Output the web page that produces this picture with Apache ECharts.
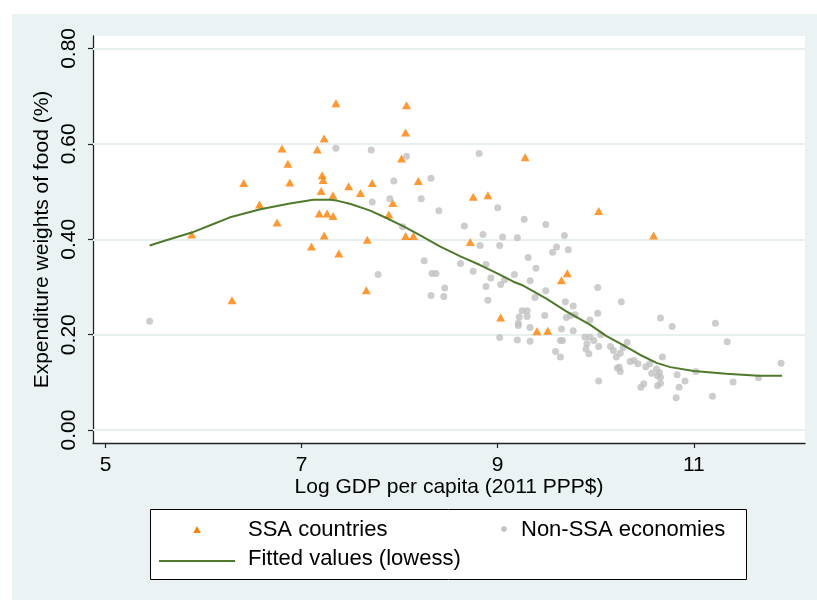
<!DOCTYPE html>
<html>
<head>
<meta charset="utf-8">
<script src="https://cdn.jsdelivr.net/npm/echarts@6/dist/echarts.min.js"></script>
<style>
  html, body { margin: 0; padding: 0; background: #fff; }
  #chart { width: 817px; height: 600px; }
</style>
</head>
<body>
<div id="chart"></div>
<script>
// Axis ticks
const xTicks = [5, 7, 9, 11];
const yTicks = [0, 0.2, 0.4, 0.6, 0.8];

// Sub-Saharan African countries: log GDP per capita vs food expenditure weight
const ssaX = [5.88, 6.29, 6.41, 6.57, 6.75, 6.80, 6.86, 6.88, 7.10, 7.16, 7.18, 7.20, 7.21, 7.22, 7.23,
              7.23, 7.26, 7.32, 7.32, 7.35, 7.38, 7.48, 7.60, 7.66, 7.67, 7.72, 7.89, 7.93, 8.02, 8.06,
              8.06, 8.07, 8.14, 8.19, 8.72, 8.75, 8.90, 9.03, 9.28, 9.40, 9.51, 9.65, 9.71, 10.03, 10.59];
const ssaY = [0.410, 0.272, 0.518, 0.473, 0.435, 0.590, 0.558, 0.519, 0.385, 0.588, 0.454, 0.501, 0.534, 0.524, 0.408,
              0.611, 0.454, 0.449, 0.492, 0.685, 0.370, 0.511, 0.497, 0.293, 0.399, 0.518, 0.452, 0.476, 0.569, 0.407,
              0.624, 0.681, 0.407, 0.522, 0.394, 0.489, 0.492, 0.236, 0.572, 0.207, 0.208, 0.314, 0.329, 0.459, 0.408];

// Other economies
const nonSsaX = [5.45, 7.35, 7.71, 8.07, 8.81, 7.94, 8.32, 7.72, 7.90, 8.22, 8.40, 8.03, 8.66, 8.85, 9.00,
                 8.82, 9.02, 9.05, 9.20, 9.27, 9.49, 9.68, 9.60, 9.56, 9.72, 9.31, 9.39, 8.25, 8.33, 8.37,
                 7.78, 8.62, 8.75, 8.88, 8.93, 8.88, 9.03, 9.07, 9.17, 8.46, 8.32, 8.45, 8.90, 9.33, 9.49,
                 9.38, 10.02, 9.69, 9.77, 10.26, 9.25, 9.30, 9.22, 9.30, 9.21, 9.21, 9.70, 9.48, 9.33, 9.65,
                 9.02, 9.20, 9.33, 9.64, 9.66, 9.59, 9.64, 9.79, 9.74, 10.02, 9.77, 9.94, 10.05, 10.66, 10.78,
                 11.22, 11.34, 11.89, 9.89, 9.94, 9.98, 9.91, 10.03, 9.93, 9.90, 10.15, 10.18, 10.21, 10.25, 10.32,
                 10.28, 10.35, 10.39, 10.43, 10.22, 10.25, 10.24, 10.03, 10.46, 10.49, 10.51, 10.55, 10.57, 10.62, 10.65,
                 10.66, 10.63, 10.66, 10.63, 10.68, 10.83, 10.85, 10.91, 10.82, 11.02, 11.19, 11.40, 11.66];
const nonSsaY = [0.228, 0.591, 0.587, 0.574, 0.580, 0.522, 0.528, 0.478, 0.485, 0.485, 0.460, 0.426, 0.428, 0.410, 0.466,
                 0.387, 0.387, 0.405, 0.403, 0.442, 0.431, 0.408, 0.384, 0.373, 0.378, 0.362, 0.339, 0.355, 0.328, 0.328,
                 0.326, 0.349, 0.333, 0.347, 0.319, 0.301, 0.305, 0.315, 0.326, 0.298, 0.282, 0.280, 0.272, 0.313, 0.292,
                 0.278, 0.299, 0.269, 0.260, 0.269, 0.250, 0.250, 0.237, 0.238, 0.224, 0.219, 0.236, 0.240, 0.215, 0.212,
                 0.194, 0.189, 0.186, 0.188, 0.188, 0.165, 0.153, 0.242, 0.240, 0.245, 0.208, 0.231, 0.200, 0.235, 0.217,
                 0.224, 0.185, 0.140, 0.195, 0.195, 0.188, 0.181, 0.175, 0.160, 0.170, 0.175, 0.167, 0.153, 0.161, 0.184,
                 0.173, 0.144, 0.146, 0.139, 0.130, 0.123, 0.132, 0.103, 0.090, 0.097, 0.133, 0.139, 0.119, 0.128, 0.121,
                 0.111, 0.093, 0.098, 0.114, 0.153, 0.116, 0.090, 0.103, 0.068, 0.123, 0.071, 0.101, 0.110];

// Lowess fit
const lowessX = [5.45, 5.62, 5.88, 6.10, 6.27, 6.58, 6.88, 7.12, 7.29, 7.36, 7.50, 7.70, 7.87, 8.04, 8.21, 8.41,
                 8.62, 8.82, 8.99, 9.16, 9.26, 9.50, 9.70, 9.94, 10.11, 10.28, 10.45, 10.62, 10.76, 11.00, 11.33, 11.66, 11.90];
const lowessY = [0.387, 0.398, 0.414, 0.432, 0.446, 0.463, 0.475, 0.483, 0.483, 0.481, 0.474, 0.460, 0.444, 0.427, 0.408, 0.385,
                 0.364, 0.346, 0.329, 0.311, 0.303, 0.275, 0.249, 0.221, 0.197, 0.178, 0.158, 0.141, 0.132, 0.124, 0.118, 0.114, 0.114];

const zip = (xs, ys) => xs.map((x, i) => [x, ys[i]]);

const FONT = '"Liberation Sans", Arial, sans-serif';
const ORANGE = '#ff7f00';
const GREY = '#c0c0c0';
const GREEN = '#4f7a2b';
const GRID = '#e8eff1';
const AXIS = '#222';

const chart = echarts.init(document.getElementById('chart'), null, { renderer: 'canvas' });

chart.setOption({
  animation: false,
  backgroundColor: '#fff',
  grid: { left: 93, right: 12, top: 36, bottom: 157, containLabel: false, outerBoundsMode: 'none' },
  xAxis: {
    type: 'value',
    min: 4.8725,
    max: 12.134,
    name: 'Log GDP per capita (2011 PPP$)',
    nameLocation: 'middle',
    nameGap: 34,
    nameMoveOverlap: false,
    nameTextStyle: { fontSize: 21, color: '#000', fontFamily: FONT },
    axisLine: { show: true, onZero: false, lineStyle: { color: AXIS, width: 1.3 } },
    axisTick: { show: true, length: 5, customValues: xTicks, lineStyle: { color: AXIS, width: 1.2 } },
    axisLabel: { customValues: xTicks, margin: 12, fontSize: 21, color: '#000', fontFamily: FONT,
                 formatter: v => String(v) },
    splitLine: { show: false }
  },
  yAxis: {
    type: 'value',
    min: -0.027,
    max: 0.826,
    name: 'Expenditure weights of food (%)',
    nameLocation: 'middle',
    nameGap: 40,
    nameMoveOverlap: false,
    nameTextStyle: { fontSize: 21, color: '#000', fontFamily: FONT },
    axisLine: { show: true, onZero: false, lineStyle: { color: AXIS, width: 1.3 } },
    axisTick: { show: true, length: 5, customValues: yTicks, lineStyle: { color: AXIS, width: 1.2 } },
    axisLabel: { customValues: yTicks, rotate: 90, margin: 13, fontSize: 21, color: '#000', fontFamily: FONT,
                 formatter: v => v.toFixed(2) },
    splitLine: { show: false }
  },
  graphic: [
    { type: 'rect', z: -10, silent: true, shape: { x: 12, y: 14, width: 805, height: 586 }, style: { fill: '#eaf2f3' } },
    { type: 'rect', z: -9, silent: true, shape: { x: 93, y: 36, width: 712, height: 407 }, style: { fill: '#fff' } },
    { type: 'rect', silent: true, shape: { x: 150.5, y: 509.5, width: 596, height: 70 },
      style: { fill: '#fff', stroke: '#000', lineWidth: 1 } },
    { type: 'polygon', silent: true, shape: { points: [[197, 526], [193.3, 533], [200.7, 533]] }, style: { fill: ORANGE } },
    { type: 'text', silent: true, x: 248, y: 530,
      style: { text: 'SSA countries', font: '22px ' + FONT, fill: '#000', verticalAlign: 'middle' } },
    { type: 'circle', silent: true, shape: { cx: 504, cy: 529, r: 2.8 }, style: { fill: GREY } },
    { type: 'text', silent: true, x: 521, y: 530,
      style: { text: 'Non-SSA economies', font: '22px ' + FONT, fill: '#000', verticalAlign: 'middle' } },
    { type: 'line', silent: true, shape: { x1: 159, y1: 561, x2: 235, y2: 561 }, style: { stroke: GREEN, lineWidth: 2 } },
    { type: 'text', silent: true, x: 248, y: 559,
      style: { text: 'Fitted values (lowess)', font: '22px ' + FONT, fill: '#000', verticalAlign: 'middle' } }
  ],
  series: [
    {
      name: 'SSA countries',
      type: 'scatter',
      symbol: 'triangle',
      symbolSize: [9, 8],
      itemStyle: { color: ORANGE },
      data: zip(ssaX, ssaY),
      markLine: {
        silent: true,
        z: 1,
        symbol: ['none', 'none'],
        label: { show: false },
        emphasis: { disabled: true },
        lineStyle: { color: GRID, width: 2, type: 'solid' },
        data: yTicks.map(v => ({ yAxis: v }))
      }
    },
    {
      name: 'Non-SSA economies',
      type: 'scatter',
      symbol: 'circle',
      symbolSize: 7,
      itemStyle: { color: GREY },
      data: zip(nonSsaX, nonSsaY)
    },
    {
      name: 'Fitted values (lowess)',
      type: 'line',
      showSymbol: false,
      symbol: 'none',
      lineStyle: { color: GREEN, width: 2 },
      data: zip(lowessX, lowessY)
    }
  ]
});
</script>
</body>
</html>
